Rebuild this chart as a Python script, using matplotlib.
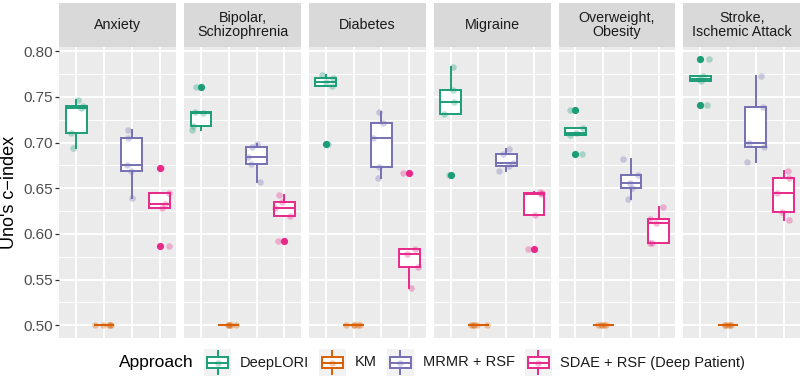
import numpy as np
import matplotlib
matplotlib.use("Agg")
import matplotlib.pyplot as plt
from matplotlib.patches import Rectangle

plt.rcParams['font.family'] = ['Liberation Sans', 'DejaVu Sans']

# ---------------- data ----------------
diseases = ["Anxiety", "Bipolar,\nSchizophrenia", "Diabetes", "Migraine",
            "Overweight,\nObesity", "Stroke,\nIschemic Attack"]
approaches = ["DeepLORI", "KM", "MRMR + RSF", "SDAE + RSF (Deep Patient)"]
colors = ["#1B9E77", "#D95F02", "#7570B3", "#E7298A"]

km = [0.5, 0.5, 0.5, 0.5, 0.5]
deeplori = [
    [0.747, 0.740, 0.738, 0.711, 0.694],
    [0.761, 0.7337, 0.732, 0.718, 0.714],
    [0.774, 0.771, 0.766, 0.7625, 0.698],
    [0.7825, 0.758, 0.744, 0.7315, 0.6645],
    [0.7355, 0.7155, 0.711, 0.708, 0.6871],
    [0.7913, 0.7727, 0.770, 0.7672, 0.7417],
]
mrmr = [
    [0.714, 0.705, 0.675, 0.669, 0.6396],
    [0.698, 0.695, 0.684, 0.677, 0.657],
    [0.7337, 0.7217, 0.7053, 0.6736, 0.661],
    [0.6926, 0.688, 0.678, 0.674, 0.6693],
    [0.682, 0.6645, 0.656, 0.650, 0.6383],
    [0.7727, 0.7385, 0.699, 0.6955, 0.6784],
]
sdae = [
    [0.672, 0.645, 0.633, 0.628, 0.587],
    [0.6427, 0.635, 0.628, 0.620, 0.5917],
    [0.6667, 0.5837, 0.5779, 0.5637, 0.5407],
    [0.6463, 0.6445, 0.6434, 0.621, 0.584],
    [0.629, 0.616, 0.612, 0.590, 0.590],
    [0.669, 0.661, 0.6445, 0.6245, 0.6154],
]
yticks = [0.50, 0.55, 0.60, 0.65, 0.70, 0.75, 0.80]
ytick_labels = ["0.50", "0.55", "0.60", "0.65", "0.70", "0.75", "0.80"]

# ---------------- figure ----------------
W, H = 803, 379
fig = plt.figure(figsize=(W / 100, H / 100), dpi=100)
fig.patch.set_facecolor("white")

def fx(px):
    return px / W

def fy(py):
    return 1 - py / H

panel_left0 = 59.5
panel_w = 116.8
panel_gap = 8.0
panel_top = 46.7
panel_bot = 338.0
strip_top = 3.0

rng = np.random.default_rng(7)  # jitter of x positions only (like geom_jitter)

for i, dis in enumerate(diseases):
    left = panel_left0 + i * (panel_w + panel_gap)
    ax = fig.add_axes([fx(left), fy(panel_bot), panel_w / W, (panel_bot - panel_top) / H])
    ax.set_facecolor("#EBEBEB")
    ax.set_xlim(0.4, 4.6)
    ax.set_ylim(0.486, 0.805)
    for s in ax.spines.values():
        s.set_visible(False)
    ax.set_axisbelow(True)
    # grid
    for yv in yticks:
        ax.axhline(yv, color="white", lw=1.3, zorder=0)
    for k in range(len(yticks) - 1):
        ax.axhline((yticks[k] + yticks[k + 1]) / 2, color="white", lw=0.65, zorder=0)
    for xv in [1, 2, 3, 4]:
        ax.axvline(xv, color="white", lw=1.3, zorder=0)

    groups = [deeplori[i], km, mrmr[i], sdae[i]]
    for j, (vals, c) in enumerate(zip(groups, colors)):
        ax.boxplot([vals], positions=[j + 1], widths=0.75, patch_artist=True,
                   whis=1.5, showcaps=False,
                   boxprops=dict(facecolor="white", edgecolor=c, linewidth=1.4),
                   medianprops=dict(color=c, linewidth=1.4),
                   whiskerprops=dict(color=c, linewidth=1.4),
                   flierprops=dict(marker="o", markerfacecolor=c, markeredgecolor=c,
                                   markersize=5.2, markeredgewidth=0),
                   zorder=2)
        xj = (j + 1) + rng.uniform(-0.33, 0.33, len(vals))
        ax.scatter(xj, vals, s=22, color=c, alpha=0.32, linewidths=0, zorder=3)

    ax.set_xticks([])
    if i == 0:
        ax.set_yticks(yticks)
        ax.set_yticklabels(ytick_labels)
        ax.tick_params(axis="y", length=3, width=0.9, color="#333333",
                       labelsize=11, labelcolor="#4D4D4D", pad=2)
    else:
        ax.set_yticks(yticks)
        ax.tick_params(axis="y", length=0, labelleft=False)

    # strip
    sax = fig.add_axes([fx(left), fy(panel_top), panel_w / W, (panel_top - strip_top) / H])
    sax.set_facecolor("#D9D9D9")
    sax.set_xticks([])
    sax.set_yticks([])
    for s in sax.spines.values():
        s.set_visible(False)
    sax.text(0.5, 0.5, dis, ha="center", va="center", fontsize=10.3,
             color="#1A1A1A", linespacing=0.95, transform=sax.transAxes)

# y label
fig.text(fx(10), fy((panel_top + panel_bot) / 2), "Uno's c\u2212index", rotation=90,
         ha="center", va="center", fontsize=13, color="black")

# ---------------- legend ----------------
leg_y_top, leg_size = 349, 27
fig.text(fx(119), fy(362.5), "Approach", ha="left", va="center", fontsize=12.5, color="black")
key_x = [204, 319, 387, 525]
label_x = [240, 355, 423, 560]
for kx, lx, c, name in zip(key_x, label_x, colors, approaches):
    kax = fig.add_axes([fx(kx), fy(leg_y_top + leg_size), leg_size / W, leg_size / H])
    kax.set_facecolor("#F2F2F2")
    kax.set_xlim(0, 1)
    kax.set_ylim(0, 1)
    kax.set_xticks([])
    kax.set_yticks([])
    for s in kax.spines.values():
        s.set_visible(False)
    kax.plot([0.5, 0.5], [0.08, 0.92], color=c, lw=1.4, zorder=1)
    kax.add_patch(Rectangle((0.1, 0.28), 0.8, 0.44, facecolor="white", edgecolor=c,
                            lw=1.4, zorder=2))
    kax.plot([0.1, 0.9], [0.5, 0.5], color=c, lw=1.4, zorder=3)
    kax.scatter([0.5], [0.5], s=22, color=c, alpha=0.3, linewidths=0, zorder=4)
    fig.text(fx(lx), fy(362.5), name, ha="left", va="center", fontsize=10.5, color="#1A1A1A")

fig.savefig("out.png", dpi=100)
